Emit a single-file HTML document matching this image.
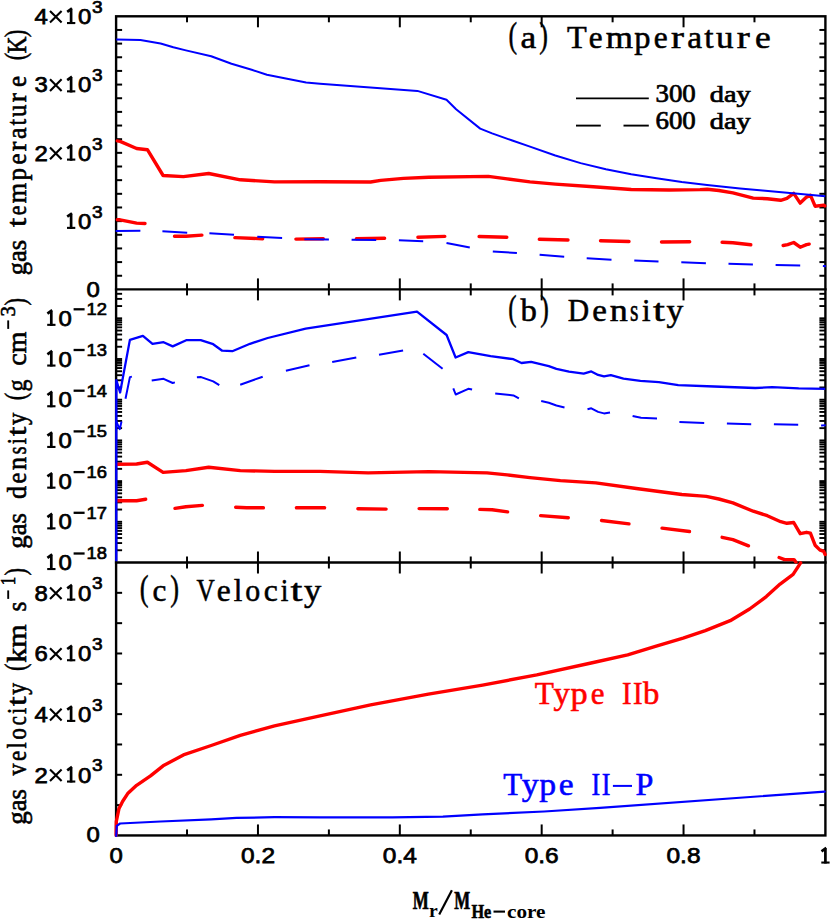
<!DOCTYPE html>
<html><head><meta charset="utf-8"><title>Gas temperature, density, velocity</title>
<style>html,body{margin:0;padding:0;background:#fff}body{width:830px;height:919px;overflow:hidden}svg{display:block}text{white-space:pre}</style>
</head><body>
<svg width="830" height="919" viewBox="0 0 830 919">
<rect width="830" height="919" fill="#fff"/>
<defs><clipPath id="cb"><rect x="113.1" y="289.4" width="715.3" height="274.3"/></clipPath><clipPath id="cc"><rect x="113.1" y="561.0" width="715.3" height="275.95000000000005"/></clipPath></defs>
<g stroke="#000" stroke-width="2.0" fill="none">
<line x1="187.03" y1="16.30" x2="187.03" y2="22.30"/>
<line x1="187.03" y1="283.40" x2="187.03" y2="295.40"/>
<line x1="187.03" y1="556.50" x2="187.03" y2="568.50"/>
<line x1="187.03" y1="829.45" x2="187.03" y2="835.45"/>
<line x1="257.96" y1="16.30" x2="257.96" y2="27.30"/>
<line x1="257.96" y1="278.40" x2="257.96" y2="300.40"/>
<line x1="257.96" y1="551.50" x2="257.96" y2="573.50"/>
<line x1="257.96" y1="824.45" x2="257.96" y2="835.45"/>
<line x1="328.89" y1="16.30" x2="328.89" y2="22.30"/>
<line x1="328.89" y1="283.40" x2="328.89" y2="295.40"/>
<line x1="328.89" y1="556.50" x2="328.89" y2="568.50"/>
<line x1="328.89" y1="829.45" x2="328.89" y2="835.45"/>
<line x1="399.82" y1="16.30" x2="399.82" y2="27.30"/>
<line x1="399.82" y1="278.40" x2="399.82" y2="300.40"/>
<line x1="399.82" y1="551.50" x2="399.82" y2="573.50"/>
<line x1="399.82" y1="824.45" x2="399.82" y2="835.45"/>
<line x1="470.75" y1="16.30" x2="470.75" y2="22.30"/>
<line x1="470.75" y1="283.40" x2="470.75" y2="295.40"/>
<line x1="470.75" y1="556.50" x2="470.75" y2="568.50"/>
<line x1="470.75" y1="829.45" x2="470.75" y2="835.45"/>
<line x1="541.68" y1="16.30" x2="541.68" y2="27.30"/>
<line x1="541.68" y1="278.40" x2="541.68" y2="300.40"/>
<line x1="541.68" y1="551.50" x2="541.68" y2="573.50"/>
<line x1="541.68" y1="824.45" x2="541.68" y2="835.45"/>
<line x1="612.61" y1="16.30" x2="612.61" y2="22.30"/>
<line x1="612.61" y1="283.40" x2="612.61" y2="295.40"/>
<line x1="612.61" y1="556.50" x2="612.61" y2="568.50"/>
<line x1="612.61" y1="829.45" x2="612.61" y2="835.45"/>
<line x1="683.54" y1="16.30" x2="683.54" y2="27.30"/>
<line x1="683.54" y1="278.40" x2="683.54" y2="300.40"/>
<line x1="683.54" y1="551.50" x2="683.54" y2="573.50"/>
<line x1="683.54" y1="824.45" x2="683.54" y2="835.45"/>
<line x1="754.47" y1="16.30" x2="754.47" y2="22.30"/>
<line x1="754.47" y1="283.40" x2="754.47" y2="295.40"/>
<line x1="754.47" y1="556.50" x2="754.47" y2="568.50"/>
<line x1="754.47" y1="829.45" x2="754.47" y2="835.45"/>
<line x1="116.10" y1="275.75" x2="122.10" y2="275.75"/>
<line x1="819.40" y1="275.75" x2="825.40" y2="275.75"/>
<line x1="116.10" y1="262.09" x2="122.10" y2="262.09"/>
<line x1="819.40" y1="262.09" x2="825.40" y2="262.09"/>
<line x1="116.10" y1="248.43" x2="122.10" y2="248.43"/>
<line x1="819.40" y1="248.43" x2="825.40" y2="248.43"/>
<line x1="116.10" y1="234.78" x2="122.10" y2="234.78"/>
<line x1="819.40" y1="234.78" x2="825.40" y2="234.78"/>
<line x1="116.10" y1="221.12" x2="122.10" y2="221.12"/>
<line x1="819.40" y1="221.12" x2="825.40" y2="221.12"/>
<line x1="116.10" y1="207.47" x2="122.10" y2="207.47"/>
<line x1="819.40" y1="207.47" x2="825.40" y2="207.47"/>
<line x1="116.10" y1="193.81" x2="122.10" y2="193.81"/>
<line x1="819.40" y1="193.81" x2="825.40" y2="193.81"/>
<line x1="116.10" y1="180.16" x2="122.10" y2="180.16"/>
<line x1="819.40" y1="180.16" x2="825.40" y2="180.16"/>
<line x1="116.10" y1="166.50" x2="122.10" y2="166.50"/>
<line x1="819.40" y1="166.50" x2="825.40" y2="166.50"/>
<line x1="116.10" y1="152.85" x2="122.10" y2="152.85"/>
<line x1="819.40" y1="152.85" x2="825.40" y2="152.85"/>
<line x1="116.10" y1="139.19" x2="122.10" y2="139.19"/>
<line x1="819.40" y1="139.19" x2="825.40" y2="139.19"/>
<line x1="116.10" y1="125.54" x2="122.10" y2="125.54"/>
<line x1="819.40" y1="125.54" x2="825.40" y2="125.54"/>
<line x1="116.10" y1="111.88" x2="122.10" y2="111.88"/>
<line x1="819.40" y1="111.88" x2="825.40" y2="111.88"/>
<line x1="116.10" y1="98.23" x2="122.10" y2="98.23"/>
<line x1="819.40" y1="98.23" x2="825.40" y2="98.23"/>
<line x1="116.10" y1="84.58" x2="122.10" y2="84.58"/>
<line x1="819.40" y1="84.58" x2="825.40" y2="84.58"/>
<line x1="116.10" y1="70.92" x2="122.10" y2="70.92"/>
<line x1="819.40" y1="70.92" x2="825.40" y2="70.92"/>
<line x1="116.10" y1="57.26" x2="122.10" y2="57.26"/>
<line x1="819.40" y1="57.26" x2="825.40" y2="57.26"/>
<line x1="116.10" y1="43.61" x2="122.10" y2="43.61"/>
<line x1="819.40" y1="43.61" x2="825.40" y2="43.61"/>
<line x1="116.10" y1="29.95" x2="122.10" y2="29.95"/>
<line x1="819.40" y1="29.95" x2="825.40" y2="29.95"/>
<line x1="116.10" y1="805.12" x2="122.10" y2="805.12"/>
<line x1="819.40" y1="805.12" x2="825.40" y2="805.12"/>
<line x1="116.10" y1="774.79" x2="122.10" y2="774.79"/>
<line x1="819.40" y1="774.79" x2="825.40" y2="774.79"/>
<line x1="116.10" y1="744.47" x2="122.10" y2="744.47"/>
<line x1="819.40" y1="744.47" x2="825.40" y2="744.47"/>
<line x1="116.10" y1="714.14" x2="122.10" y2="714.14"/>
<line x1="819.40" y1="714.14" x2="825.40" y2="714.14"/>
<line x1="116.10" y1="683.81" x2="122.10" y2="683.81"/>
<line x1="819.40" y1="683.81" x2="825.40" y2="683.81"/>
<line x1="116.10" y1="653.48" x2="122.10" y2="653.48"/>
<line x1="819.40" y1="653.48" x2="825.40" y2="653.48"/>
<line x1="116.10" y1="623.16" x2="122.10" y2="623.16"/>
<line x1="819.40" y1="623.16" x2="825.40" y2="623.16"/>
<line x1="116.10" y1="592.83" x2="122.10" y2="592.83"/>
<line x1="819.40" y1="592.83" x2="825.40" y2="592.83"/>
</g>
<g stroke="#000" stroke-width="1.9" fill="none">
<line x1="116.10" y1="550.25" x2="122.10" y2="550.25"/>
<line x1="819.40" y1="550.25" x2="825.40" y2="550.25"/>
<line x1="116.10" y1="543.08" x2="122.10" y2="543.08"/>
<line x1="819.40" y1="543.08" x2="825.40" y2="543.08"/>
<line x1="116.10" y1="538.00" x2="122.10" y2="538.00"/>
<line x1="819.40" y1="538.00" x2="825.40" y2="538.00"/>
<line x1="116.10" y1="534.05" x2="122.10" y2="534.05"/>
<line x1="819.40" y1="534.05" x2="825.40" y2="534.05"/>
<line x1="116.10" y1="530.83" x2="122.10" y2="530.83"/>
<line x1="819.40" y1="530.83" x2="825.40" y2="530.83"/>
<line x1="116.10" y1="528.10" x2="122.10" y2="528.10"/>
<line x1="819.40" y1="528.10" x2="825.40" y2="528.10"/>
<line x1="116.10" y1="525.74" x2="122.10" y2="525.74"/>
<line x1="819.40" y1="525.74" x2="825.40" y2="525.74"/>
<line x1="116.10" y1="523.66" x2="122.10" y2="523.66"/>
<line x1="819.40" y1="523.66" x2="825.40" y2="523.66"/>
<line x1="116.10" y1="521.80" x2="122.10" y2="521.80"/>
<line x1="819.40" y1="521.80" x2="825.40" y2="521.80"/>
<line x1="116.10" y1="509.55" x2="122.10" y2="509.55"/>
<line x1="819.40" y1="509.55" x2="825.40" y2="509.55"/>
<line x1="116.10" y1="502.38" x2="122.10" y2="502.38"/>
<line x1="819.40" y1="502.38" x2="825.40" y2="502.38"/>
<line x1="116.10" y1="497.30" x2="122.10" y2="497.30"/>
<line x1="819.40" y1="497.30" x2="825.40" y2="497.30"/>
<line x1="116.10" y1="493.35" x2="122.10" y2="493.35"/>
<line x1="819.40" y1="493.35" x2="825.40" y2="493.35"/>
<line x1="116.10" y1="490.13" x2="122.10" y2="490.13"/>
<line x1="819.40" y1="490.13" x2="825.40" y2="490.13"/>
<line x1="116.10" y1="487.40" x2="122.10" y2="487.40"/>
<line x1="819.40" y1="487.40" x2="825.40" y2="487.40"/>
<line x1="116.10" y1="485.04" x2="122.10" y2="485.04"/>
<line x1="819.40" y1="485.04" x2="825.40" y2="485.04"/>
<line x1="116.10" y1="482.96" x2="122.10" y2="482.96"/>
<line x1="819.40" y1="482.96" x2="825.40" y2="482.96"/>
<line x1="116.10" y1="481.10" x2="122.10" y2="481.10"/>
<line x1="819.40" y1="481.10" x2="825.40" y2="481.10"/>
<line x1="116.10" y1="468.85" x2="122.10" y2="468.85"/>
<line x1="819.40" y1="468.85" x2="825.40" y2="468.85"/>
<line x1="116.10" y1="461.68" x2="122.10" y2="461.68"/>
<line x1="819.40" y1="461.68" x2="825.40" y2="461.68"/>
<line x1="116.10" y1="456.60" x2="122.10" y2="456.60"/>
<line x1="819.40" y1="456.60" x2="825.40" y2="456.60"/>
<line x1="116.10" y1="452.65" x2="122.10" y2="452.65"/>
<line x1="819.40" y1="452.65" x2="825.40" y2="452.65"/>
<line x1="116.10" y1="449.43" x2="122.10" y2="449.43"/>
<line x1="819.40" y1="449.43" x2="825.40" y2="449.43"/>
<line x1="116.10" y1="446.70" x2="122.10" y2="446.70"/>
<line x1="819.40" y1="446.70" x2="825.40" y2="446.70"/>
<line x1="116.10" y1="444.34" x2="122.10" y2="444.34"/>
<line x1="819.40" y1="444.34" x2="825.40" y2="444.34"/>
<line x1="116.10" y1="442.26" x2="122.10" y2="442.26"/>
<line x1="819.40" y1="442.26" x2="825.40" y2="442.26"/>
<line x1="116.10" y1="440.40" x2="122.10" y2="440.40"/>
<line x1="819.40" y1="440.40" x2="825.40" y2="440.40"/>
<line x1="116.10" y1="428.15" x2="122.10" y2="428.15"/>
<line x1="819.40" y1="428.15" x2="825.40" y2="428.15"/>
<line x1="116.10" y1="420.98" x2="122.10" y2="420.98"/>
<line x1="819.40" y1="420.98" x2="825.40" y2="420.98"/>
<line x1="116.10" y1="415.90" x2="122.10" y2="415.90"/>
<line x1="819.40" y1="415.90" x2="825.40" y2="415.90"/>
<line x1="116.10" y1="411.95" x2="122.10" y2="411.95"/>
<line x1="819.40" y1="411.95" x2="825.40" y2="411.95"/>
<line x1="116.10" y1="408.73" x2="122.10" y2="408.73"/>
<line x1="819.40" y1="408.73" x2="825.40" y2="408.73"/>
<line x1="116.10" y1="406.00" x2="122.10" y2="406.00"/>
<line x1="819.40" y1="406.00" x2="825.40" y2="406.00"/>
<line x1="116.10" y1="403.64" x2="122.10" y2="403.64"/>
<line x1="819.40" y1="403.64" x2="825.40" y2="403.64"/>
<line x1="116.10" y1="401.56" x2="122.10" y2="401.56"/>
<line x1="819.40" y1="401.56" x2="825.40" y2="401.56"/>
<line x1="116.10" y1="399.70" x2="122.10" y2="399.70"/>
<line x1="819.40" y1="399.70" x2="825.40" y2="399.70"/>
<line x1="116.10" y1="387.45" x2="122.10" y2="387.45"/>
<line x1="819.40" y1="387.45" x2="825.40" y2="387.45"/>
<line x1="116.10" y1="380.28" x2="122.10" y2="380.28"/>
<line x1="819.40" y1="380.28" x2="825.40" y2="380.28"/>
<line x1="116.10" y1="375.20" x2="122.10" y2="375.20"/>
<line x1="819.40" y1="375.20" x2="825.40" y2="375.20"/>
<line x1="116.10" y1="371.25" x2="122.10" y2="371.25"/>
<line x1="819.40" y1="371.25" x2="825.40" y2="371.25"/>
<line x1="116.10" y1="368.03" x2="122.10" y2="368.03"/>
<line x1="819.40" y1="368.03" x2="825.40" y2="368.03"/>
<line x1="116.10" y1="365.30" x2="122.10" y2="365.30"/>
<line x1="819.40" y1="365.30" x2="825.40" y2="365.30"/>
<line x1="116.10" y1="362.94" x2="122.10" y2="362.94"/>
<line x1="819.40" y1="362.94" x2="825.40" y2="362.94"/>
<line x1="116.10" y1="360.86" x2="122.10" y2="360.86"/>
<line x1="819.40" y1="360.86" x2="825.40" y2="360.86"/>
<line x1="116.10" y1="359.00" x2="122.10" y2="359.00"/>
<line x1="819.40" y1="359.00" x2="825.40" y2="359.00"/>
<line x1="116.10" y1="346.75" x2="122.10" y2="346.75"/>
<line x1="819.40" y1="346.75" x2="825.40" y2="346.75"/>
<line x1="116.10" y1="339.58" x2="122.10" y2="339.58"/>
<line x1="819.40" y1="339.58" x2="825.40" y2="339.58"/>
<line x1="116.10" y1="334.50" x2="122.10" y2="334.50"/>
<line x1="819.40" y1="334.50" x2="825.40" y2="334.50"/>
<line x1="116.10" y1="330.55" x2="122.10" y2="330.55"/>
<line x1="819.40" y1="330.55" x2="825.40" y2="330.55"/>
<line x1="116.10" y1="327.33" x2="122.10" y2="327.33"/>
<line x1="819.40" y1="327.33" x2="825.40" y2="327.33"/>
<line x1="116.10" y1="324.60" x2="122.10" y2="324.60"/>
<line x1="819.40" y1="324.60" x2="825.40" y2="324.60"/>
<line x1="116.10" y1="322.24" x2="122.10" y2="322.24"/>
<line x1="819.40" y1="322.24" x2="825.40" y2="322.24"/>
<line x1="116.10" y1="320.16" x2="122.10" y2="320.16"/>
<line x1="819.40" y1="320.16" x2="825.40" y2="320.16"/>
<line x1="116.10" y1="318.30" x2="122.10" y2="318.30"/>
<line x1="819.40" y1="318.30" x2="825.40" y2="318.30"/>
<line x1="116.10" y1="306.05" x2="122.10" y2="306.05"/>
<line x1="819.40" y1="306.05" x2="825.40" y2="306.05"/>
<line x1="116.10" y1="298.88" x2="122.10" y2="298.88"/>
<line x1="819.40" y1="298.88" x2="825.40" y2="298.88"/>
<line x1="116.10" y1="293.80" x2="122.10" y2="293.80"/>
<line x1="819.40" y1="293.80" x2="825.40" y2="293.80"/>
</g>
<g stroke="#000" stroke-width="2.4" fill="none" stroke-linecap="square">
<rect x="116.1" y="16.3" width="709.3" height="819.1500000000001"/>
<line x1="116.10" y1="289.40" x2="825.40" y2="289.40"/>
<line x1="116.10" y1="562.50" x2="825.40" y2="562.50"/>
</g>
<polyline points="117.3,140.9 120.1,141.4 136.6,148.5 147.4,149.7 163.1,175.5 183.4,176.6 208.7,173.5 240.3,179.8 274.5,181.9 320.0,181.8 370.6,182.0 380.7,180.4 403.5,178.4 428.8,177.2 488.3,176.4 507.2,178.9 530.0,181.9 555.3,184.1 593.3,186.7 631.2,189.5 669.2,190.0 700.0,189.6 707.1,189.2 718.8,190.5 732.9,192.9 753.2,198.1 767.3,198.7 780.7,200.3 786.9,198.4 793.7,193.4 800.2,203.1 806.5,197.1 810.4,195.2 815.1,206.2 823.7,205.1 824.8,205.9" fill="none" stroke="#ff0000" stroke-width="3.4" stroke-linejoin="round" stroke-linecap="round"/>
<polyline points="117.3,219.8 120.1,219.8 136.6,223.1 145.0,223.5" fill="none" stroke="#ff0000" stroke-width="3.4" stroke-linejoin="round" stroke-linecap="round"/>
<polyline points="174.5,236.3 185.9,236.3 201.9,235.1" fill="none" stroke="#ff0000" stroke-width="3.4" stroke-linejoin="round" stroke-linecap="round"/>
<polyline points="234.9,237.6 262.7,238.7" fill="none" stroke="#ff0000" stroke-width="3.4" stroke-linejoin="round" stroke-linecap="round"/>
<polyline points="295.9,239.1 323.3,238.7" fill="none" stroke="#ff0000" stroke-width="3.4" stroke-linejoin="round" stroke-linecap="round"/>
<polyline points="356.4,238.7 384.6,238.2" fill="none" stroke="#ff0000" stroke-width="3.4" stroke-linejoin="round" stroke-linecap="round"/>
<polyline points="417.9,237.2 444.8,236.4" fill="none" stroke="#ff0000" stroke-width="3.4" stroke-linejoin="round" stroke-linecap="round"/>
<polyline points="479.1,236.5 506.8,237.3" fill="none" stroke="#ff0000" stroke-width="3.4" stroke-linejoin="round" stroke-linecap="round"/>
<polyline points="539.3,239.2 568.0,240.0" fill="none" stroke="#ff0000" stroke-width="3.4" stroke-linejoin="round" stroke-linecap="round"/>
<polyline points="600.5,240.7 629.0,241.5" fill="none" stroke="#ff0000" stroke-width="3.4" stroke-linejoin="round" stroke-linecap="round"/>
<polyline points="661.5,242.0 689.7,241.8" fill="none" stroke="#ff0000" stroke-width="3.4" stroke-linejoin="round" stroke-linecap="round"/>
<polyline points="722.1,242.3 732.9,242.7 750.8,244.8" fill="none" stroke="#ff0000" stroke-width="3.4" stroke-linejoin="round" stroke-linecap="round"/>
<polyline points="783.1,245.5 787.7,244.6 793.7,242.5 800.2,247.2 806.5,244.6 809.2,244.1" fill="none" stroke="#ff0000" stroke-width="3.4" stroke-linejoin="round" stroke-linecap="round"/>
<polyline points="116.3,39.5 140.4,40.0 160.6,43.5 173.3,47.3 185.9,50.4 211.2,56.2 231.5,63.8 251.7,69.8 266.9,74.7 287.1,78.7 306.1,82.5 320.0,83.7 417.4,90.9 446.5,99.7 456.1,109.3 480.2,128.6 492.1,133.4 512.3,140.5 530.0,146.6 555.3,155.5 580.6,163.1 605.9,169.2 631.2,174.3 656.5,178.3 681.8,181.9 707.1,184.9 740.0,188.4 762.6,190.5 825.3,196.3" fill="none" stroke="#0000ff" stroke-width="2.0" stroke-linejoin="round" stroke-linecap="butt"/>
<polyline points="115.6,231.0 140.4,230.7" fill="none" stroke="#0000ff" stroke-width="2.0" stroke-linejoin="round" stroke-linecap="butt"/>
<polyline points="162.4,231.2 187.2,232.7" fill="none" stroke="#0000ff" stroke-width="2.0" stroke-linejoin="round" stroke-linecap="butt"/>
<polyline points="209.4,233.2 234.0,234.8" fill="none" stroke="#0000ff" stroke-width="2.0" stroke-linejoin="round" stroke-linecap="butt"/>
<polyline points="257.3,236.8 282.1,238.0" fill="none" stroke="#0000ff" stroke-width="2.0" stroke-linejoin="round" stroke-linecap="butt"/>
<polyline points="304.3,239.3 328.9,239.5" fill="none" stroke="#0000ff" stroke-width="2.0" stroke-linejoin="round" stroke-linecap="butt"/>
<polyline points="351.6,239.7 376.2,240.0" fill="none" stroke="#0000ff" stroke-width="2.0" stroke-linejoin="round" stroke-linecap="butt"/>
<polyline points="398.9,240.2 423.2,241.2" fill="none" stroke="#0000ff" stroke-width="2.0" stroke-linejoin="round" stroke-linecap="butt"/>
<polyline points="446.5,243.0 469.8,247.6" fill="none" stroke="#0000ff" stroke-width="2.0" stroke-linejoin="round" stroke-linecap="butt"/>
<polyline points="492.8,251.4 516.9,253.1" fill="none" stroke="#0000ff" stroke-width="2.0" stroke-linejoin="round" stroke-linecap="butt"/>
<polyline points="539.6,254.7 564.2,256.7" fill="none" stroke="#0000ff" stroke-width="2.0" stroke-linejoin="round" stroke-linecap="butt"/>
<polyline points="586.7,258.2 611.5,259.7" fill="none" stroke="#0000ff" stroke-width="2.0" stroke-linejoin="round" stroke-linecap="butt"/>
<polyline points="634.3,260.5 658.5,261.5" fill="none" stroke="#0000ff" stroke-width="2.0" stroke-linejoin="round" stroke-linecap="butt"/>
<polyline points="681.3,262.2 705.9,263.2" fill="none" stroke="#0000ff" stroke-width="2.0" stroke-linejoin="round" stroke-linecap="butt"/>
<polyline points="728.5,263.8 752.9,264.5" fill="none" stroke="#0000ff" stroke-width="2.0" stroke-linejoin="round" stroke-linecap="butt"/>
<polyline points="775.6,264.9 800.2,265.4" fill="none" stroke="#0000ff" stroke-width="2.0" stroke-linejoin="round" stroke-linecap="butt"/>
<polyline points="822.9,266.0 826.0,266.2" fill="none" stroke="#0000ff" stroke-width="2.0" stroke-linejoin="round" stroke-linecap="butt"/>
<g clip-path="url(#cb)">
<polyline points="116.8,464.3 136.6,464.0 147.4,462.3 163.1,472.4 185.9,470.6 208.7,467.3 240.3,470.6 274.5,471.4 320.0,471.4 368.1,472.9 428.8,471.6 487.0,472.9 507.2,474.9 530.0,477.6 560.4,480.6 595.8,482.9 636.3,488.5 681.8,494.5 700.0,495.9 706.3,496.4 718.8,499.0 732.9,502.9 753.2,511.2 767.3,515.7 780.7,521.7 786.9,523.3 793.7,522.5 800.2,533.7 806.5,532.3 810.4,533.1 815.1,545.2 819.8,549.9 823.7,551.4 825.1,554.5" fill="none" stroke="#ff0000" stroke-width="3.4" stroke-linejoin="round" stroke-linecap="round"/>
<polyline points="116.8,500.7 136.6,500.7 145.7,499.3" fill="none" stroke="#ff0000" stroke-width="3.4" stroke-linejoin="round" stroke-linecap="round"/>
<polyline points="175.0,508.4 185.9,506.8 202.4,505.4" fill="none" stroke="#ff0000" stroke-width="3.4" stroke-linejoin="round" stroke-linecap="round"/>
<polyline points="235.7,507.2 246.6,507.8 263.4,507.8" fill="none" stroke="#ff0000" stroke-width="3.4" stroke-linejoin="round" stroke-linecap="round"/>
<polyline points="296.4,507.8 324.6,507.8" fill="none" stroke="#ff0000" stroke-width="3.4" stroke-linejoin="round" stroke-linecap="round"/>
<polyline points="357.9,508.8 386.1,509.1" fill="none" stroke="#ff0000" stroke-width="3.4" stroke-linejoin="round" stroke-linecap="round"/>
<polyline points="419.1,508.6 447.3,508.8" fill="none" stroke="#ff0000" stroke-width="3.4" stroke-linejoin="round" stroke-linecap="round"/>
<polyline points="479.8,509.4 492.1,509.8 507.6,511.9" fill="none" stroke="#ff0000" stroke-width="3.4" stroke-linejoin="round" stroke-linecap="round"/>
<polyline points="540.6,515.6 568.3,517.7" fill="none" stroke="#ff0000" stroke-width="3.4" stroke-linejoin="round" stroke-linecap="round"/>
<polyline points="601.5,520.5 629.0,523.9" fill="none" stroke="#ff0000" stroke-width="3.4" stroke-linejoin="round" stroke-linecap="round"/>
<polyline points="662.0,528.1 689.5,531.5" fill="none" stroke="#ff0000" stroke-width="3.4" stroke-linejoin="round" stroke-linecap="round"/>
<polyline points="722.1,537.3 732.9,539.7 748.5,545.8" fill="none" stroke="#ff0000" stroke-width="3.4" stroke-linejoin="round" stroke-linecap="round"/>
<polyline points="779.1,557.5 784.6,559.6 794.0,559.6 796.0,562.2" fill="none" stroke="#ff0000" stroke-width="3.4" stroke-linejoin="round" stroke-linecap="round"/>
<polyline points="116.3,561.2 116.3,380.2 120.1,392.5 129.9,339.9 142.9,335.8 152.5,343.9 163.6,342.2 172.7,346.4 186.2,340.2 200.7,340.2 213.2,344.2 222.2,350.7 232.3,351.2 250.0,343.8 267.7,338.0 305.7,328.7 417.0,311.7 446.6,335.0 455.6,357.5 468.3,352.1 490.6,356.2 513.4,359.2 521.5,363.0 531.1,361.8 548.8,366.1 556.4,368.8 569.0,371.6 583.7,373.6 591.3,371.4 598.1,374.9 604.0,376.4 610.8,375.2 623.5,378.7 640.4,380.9 658.9,382.2 678.2,385.1 714.3,386.5 755.3,388.0 772.2,387.2 798.7,388.4 825.2,388.9" fill="none" stroke="#0000ff" stroke-width="2.3" stroke-linejoin="round" stroke-linecap="butt"/>
<polyline points="115.9,420.7 119.8,429.1 121.5,421.5" fill="none" stroke="#0000ff" stroke-width="2.0" stroke-linejoin="round" stroke-linecap="butt"/>
<polyline points="125.5,398.7 129.9,377.1 131.9,376.6" fill="none" stroke="#0000ff" stroke-width="2.0" stroke-linejoin="round" stroke-linecap="butt"/>
<polyline points="151.7,380.5 163.6,378.8 172.7,383.0 174.9,382.4" fill="none" stroke="#0000ff" stroke-width="2.0" stroke-linejoin="round" stroke-linecap="butt"/>
<polyline points="196.9,377.3 201.1,377.1 213.2,381.4 219.3,385.2" fill="none" stroke="#0000ff" stroke-width="2.0" stroke-linejoin="round" stroke-linecap="butt"/>
<polyline points="240.2,384.7 250.0,381.2 262.7,376.7" fill="none" stroke="#0000ff" stroke-width="2.0" stroke-linejoin="round" stroke-linecap="butt"/>
<polyline points="285.9,370.7 309.5,365.3" fill="none" stroke="#0000ff" stroke-width="2.0" stroke-linejoin="round" stroke-linecap="butt"/>
<polyline points="332.2,362.1 356.3,357.5" fill="none" stroke="#0000ff" stroke-width="2.0" stroke-linejoin="round" stroke-linecap="butt"/>
<polyline points="379.0,354.7 403.1,350.4" fill="none" stroke="#0000ff" stroke-width="2.0" stroke-linejoin="round" stroke-linecap="butt"/>
<polyline points="423.3,353.7 442.6,368.8" fill="none" stroke="#0000ff" stroke-width="2.0" stroke-linejoin="round" stroke-linecap="butt"/>
<polyline points="453.3,388.4 455.7,394.5 468.3,388.8 472.1,389.6" fill="none" stroke="#0000ff" stroke-width="2.0" stroke-linejoin="round" stroke-linecap="butt"/>
<polyline points="495.2,393.4 513.4,395.4 518.9,398.4" fill="none" stroke="#0000ff" stroke-width="2.0" stroke-linejoin="round" stroke-linecap="butt"/>
<polyline points="541.2,401.0 548.8,402.7 556.4,405.5 564.5,407.5" fill="none" stroke="#0000ff" stroke-width="2.0" stroke-linejoin="round" stroke-linecap="butt"/>
<polyline points="587.5,409.3 591.3,408.3 598.1,411.9 604.0,413.4 610.0,412.4" fill="none" stroke="#0000ff" stroke-width="2.0" stroke-linejoin="round" stroke-linecap="butt"/>
<polyline points="632.6,416.1 641.0,417.8 657.0,418.6" fill="none" stroke="#0000ff" stroke-width="2.0" stroke-linejoin="round" stroke-linecap="butt"/>
<polyline points="679.4,421.9 704.2,422.9" fill="none" stroke="#0000ff" stroke-width="2.0" stroke-linejoin="round" stroke-linecap="butt"/>
<polyline points="726.9,423.6 751.2,424.3" fill="none" stroke="#0000ff" stroke-width="2.0" stroke-linejoin="round" stroke-linecap="butt"/>
<polyline points="773.9,424.3 798.2,424.8" fill="none" stroke="#0000ff" stroke-width="2.0" stroke-linejoin="round" stroke-linecap="butt"/>
<polyline points="821.1,425.5 825.7,425.3" fill="none" stroke="#0000ff" stroke-width="2.0" stroke-linejoin="round" stroke-linecap="butt"/>
</g>
<g clip-path="url(#cc)">
<polyline points="116.1,835.3 116.3,821.5 118.9,808.8 122.7,801.2 127.7,793.6 136.6,785.3 150.5,775.9 163.1,765.8 183.4,754.9 211.2,745.5 240.3,735.4 274.5,725.8 320.0,715.9 370.6,704.9 428.4,694.1 482.6,685.1 536.8,674.9 591.1,663.0 627.7,654.8 655.4,646.4 683.1,638.1 705.3,630.6 730.2,620.7 749.6,609.0 766.3,596.6 780.1,584.1 793.1,574.4 800.6,562.9" fill="none" stroke="#ff0000" stroke-width="3.4" stroke-linejoin="round" stroke-linecap="round"/>
<polyline points="116.2,835.9 116.8,825.8 120.1,823.5 160.6,821.5 211.2,819.4 236.5,817.9 274.5,817.2 320.0,817.3 392.3,817.3 442.9,816.6 482.6,814.4 544.1,811.5 600.0,807.9 824.7,791.6" fill="none" stroke="#0000ff" stroke-width="2.2" stroke-linejoin="round" stroke-linecap="round"/>
</g>
<g stroke="#000" stroke-width="1.9"><line x1="576" y1="98.4" x2="648.8" y2="98.4"/><line x1="576" y1="125.6" x2="600.8" y2="125.6"/><line x1="623.5" y1="125.6" x2="648.8" y2="125.6"/></g>
<text x="34.4" y="24.1" font-family="Liberation Sans, sans-serif" font-size="22.7" fill="#000" text-anchor="start" textLength="13.3" lengthAdjust="spacingAndGlyphs" stroke="#000" stroke-width="0.75" >4</text>
<path d="M50.0,11.0L61.6,22.6M50.0,22.6L61.6,11.0" stroke="#000" stroke-width="2.1" fill="none"/>
<path d="M71.10,24.10V8.60M72.00,8.40L67.20,11.80" stroke="#000" stroke-width="2.7" fill="none" stroke-linecap="butt"/>
<line x1="67.00" y1="23.05" x2="75.30" y2="23.05" stroke="#000" stroke-width="2.1"/>
<text x="78.0" y="24.1" font-family="Liberation Sans, sans-serif" font-size="22.7" fill="#000" text-anchor="start" textLength="13.3" lengthAdjust="spacingAndGlyphs" stroke="#000" stroke-width="0.75" >0</text>
<text x="91.9" y="12.9" font-family="Liberation Sans, sans-serif" font-size="17.4" fill="#000" text-anchor="start" textLength="10.6" lengthAdjust="spacingAndGlyphs" stroke="#000" stroke-width="0.7" >3</text>
<text x="34.4" y="92.4" font-family="Liberation Sans, sans-serif" font-size="22.7" fill="#000" text-anchor="start" textLength="13.3" lengthAdjust="spacingAndGlyphs" stroke="#000" stroke-width="0.75" >3</text>
<path d="M50.0,79.3L61.6,90.9M50.0,90.9L61.6,79.3" stroke="#000" stroke-width="2.1" fill="none"/>
<path d="M71.10,92.38V76.88M72.00,76.68L67.20,80.08" stroke="#000" stroke-width="2.7" fill="none" stroke-linecap="butt"/>
<line x1="67.00" y1="91.33" x2="75.30" y2="91.33" stroke="#000" stroke-width="2.1"/>
<text x="78.0" y="92.4" font-family="Liberation Sans, sans-serif" font-size="22.7" fill="#000" text-anchor="start" textLength="13.3" lengthAdjust="spacingAndGlyphs" stroke="#000" stroke-width="0.75" >0</text>
<text x="91.9" y="81.2" font-family="Liberation Sans, sans-serif" font-size="17.4" fill="#000" text-anchor="start" textLength="10.6" lengthAdjust="spacingAndGlyphs" stroke="#000" stroke-width="0.7" >3</text>
<text x="34.4" y="160.7" font-family="Liberation Sans, sans-serif" font-size="22.7" fill="#000" text-anchor="start" textLength="13.3" lengthAdjust="spacingAndGlyphs" stroke="#000" stroke-width="0.75" >2</text>
<path d="M50.0,147.5L61.6,159.2M50.0,159.2L61.6,147.5" stroke="#000" stroke-width="2.1" fill="none"/>
<path d="M71.10,160.65V145.15M72.00,144.95L67.20,148.35" stroke="#000" stroke-width="2.7" fill="none" stroke-linecap="butt"/>
<line x1="67.00" y1="159.60" x2="75.30" y2="159.60" stroke="#000" stroke-width="2.1"/>
<text x="78.0" y="160.7" font-family="Liberation Sans, sans-serif" font-size="22.7" fill="#000" text-anchor="start" textLength="13.3" lengthAdjust="spacingAndGlyphs" stroke="#000" stroke-width="0.75" >0</text>
<text x="91.9" y="149.5" font-family="Liberation Sans, sans-serif" font-size="17.4" fill="#000" text-anchor="start" textLength="10.6" lengthAdjust="spacingAndGlyphs" stroke="#000" stroke-width="0.7" >3</text>
<path d="M71.10,228.93V213.43M72.00,213.23L67.20,216.63" stroke="#000" stroke-width="2.7" fill="none" stroke-linecap="butt"/>
<line x1="67.00" y1="227.88" x2="75.30" y2="227.88" stroke="#000" stroke-width="2.1"/>
<text x="78.0" y="228.9" font-family="Liberation Sans, sans-serif" font-size="22.7" fill="#000" text-anchor="start" textLength="13.3" lengthAdjust="spacingAndGlyphs" stroke="#000" stroke-width="0.75" >0</text>
<text x="91.9" y="217.7" font-family="Liberation Sans, sans-serif" font-size="17.4" fill="#000" text-anchor="start" textLength="10.6" lengthAdjust="spacingAndGlyphs" stroke="#000" stroke-width="0.7" >3</text>
<text x="86.5" y="297.0" font-family="Liberation Sans, sans-serif" font-size="22.7" fill="#000" text-anchor="start" textLength="13.3" lengthAdjust="spacingAndGlyphs" stroke="#000" stroke-width="0.75" >0</text>
<text x="34.4" y="600.6" font-family="Liberation Sans, sans-serif" font-size="22.7" fill="#000" text-anchor="start" textLength="13.3" lengthAdjust="spacingAndGlyphs" stroke="#000" stroke-width="0.75" >8</text>
<path d="M50.0,587.5L61.6,599.1M50.0,599.1L61.6,587.5" stroke="#000" stroke-width="2.1" fill="none"/>
<path d="M71.10,600.63V585.13M72.00,584.93L67.20,588.33" stroke="#000" stroke-width="2.7" fill="none" stroke-linecap="butt"/>
<line x1="67.00" y1="599.58" x2="75.30" y2="599.58" stroke="#000" stroke-width="2.1"/>
<text x="78.0" y="600.6" font-family="Liberation Sans, sans-serif" font-size="22.7" fill="#000" text-anchor="start" textLength="13.3" lengthAdjust="spacingAndGlyphs" stroke="#000" stroke-width="0.75" >0</text>
<text x="91.9" y="589.4" font-family="Liberation Sans, sans-serif" font-size="17.4" fill="#000" text-anchor="start" textLength="10.6" lengthAdjust="spacingAndGlyphs" stroke="#000" stroke-width="0.7" >3</text>
<text x="34.4" y="661.3" font-family="Liberation Sans, sans-serif" font-size="22.7" fill="#000" text-anchor="start" textLength="13.3" lengthAdjust="spacingAndGlyphs" stroke="#000" stroke-width="0.75" >6</text>
<path d="M50.0,648.2L61.6,659.8M50.0,659.8L61.6,648.2" stroke="#000" stroke-width="2.1" fill="none"/>
<path d="M71.10,661.28V645.78M72.00,645.58L67.20,648.98" stroke="#000" stroke-width="2.7" fill="none" stroke-linecap="butt"/>
<line x1="67.00" y1="660.23" x2="75.30" y2="660.23" stroke="#000" stroke-width="2.1"/>
<text x="78.0" y="661.3" font-family="Liberation Sans, sans-serif" font-size="22.7" fill="#000" text-anchor="start" textLength="13.3" lengthAdjust="spacingAndGlyphs" stroke="#000" stroke-width="0.75" >0</text>
<text x="91.9" y="650.1" font-family="Liberation Sans, sans-serif" font-size="17.4" fill="#000" text-anchor="start" textLength="10.6" lengthAdjust="spacingAndGlyphs" stroke="#000" stroke-width="0.7" >3</text>
<text x="34.4" y="721.9" font-family="Liberation Sans, sans-serif" font-size="22.7" fill="#000" text-anchor="start" textLength="13.3" lengthAdjust="spacingAndGlyphs" stroke="#000" stroke-width="0.75" >4</text>
<path d="M50.0,708.8L61.6,720.4M50.0,720.4L61.6,708.8" stroke="#000" stroke-width="2.1" fill="none"/>
<path d="M71.10,721.94V706.44M72.00,706.24L67.20,709.64" stroke="#000" stroke-width="2.7" fill="none" stroke-linecap="butt"/>
<line x1="67.00" y1="720.89" x2="75.30" y2="720.89" stroke="#000" stroke-width="2.1"/>
<text x="78.0" y="721.9" font-family="Liberation Sans, sans-serif" font-size="22.7" fill="#000" text-anchor="start" textLength="13.3" lengthAdjust="spacingAndGlyphs" stroke="#000" stroke-width="0.75" >0</text>
<text x="91.9" y="710.7" font-family="Liberation Sans, sans-serif" font-size="17.4" fill="#000" text-anchor="start" textLength="10.6" lengthAdjust="spacingAndGlyphs" stroke="#000" stroke-width="0.7" >3</text>
<text x="34.4" y="782.6" font-family="Liberation Sans, sans-serif" font-size="22.7" fill="#000" text-anchor="start" textLength="13.3" lengthAdjust="spacingAndGlyphs" stroke="#000" stroke-width="0.75" >2</text>
<path d="M50.0,769.5L61.6,781.1M50.0,781.1L61.6,769.5" stroke="#000" stroke-width="2.1" fill="none"/>
<path d="M71.10,782.59V767.09M72.00,766.89L67.20,770.29" stroke="#000" stroke-width="2.7" fill="none" stroke-linecap="butt"/>
<line x1="67.00" y1="781.54" x2="75.30" y2="781.54" stroke="#000" stroke-width="2.1"/>
<text x="78.0" y="782.6" font-family="Liberation Sans, sans-serif" font-size="22.7" fill="#000" text-anchor="start" textLength="13.3" lengthAdjust="spacingAndGlyphs" stroke="#000" stroke-width="0.75" >0</text>
<text x="91.9" y="771.4" font-family="Liberation Sans, sans-serif" font-size="17.4" fill="#000" text-anchor="start" textLength="10.6" lengthAdjust="spacingAndGlyphs" stroke="#000" stroke-width="0.7" >3</text>
<text x="86.5" y="842.2" font-family="Liberation Sans, sans-serif" font-size="22.7" fill="#000" text-anchor="start" textLength="13.3" lengthAdjust="spacingAndGlyphs" stroke="#000" stroke-width="0.75" >0</text>
<path d="M51.30,325.90V310.40M52.20,310.20L47.40,313.60" stroke="#000" stroke-width="2.7" fill="none" stroke-linecap="butt"/>
<line x1="47.20" y1="324.85" x2="55.50" y2="324.85" stroke="#000" stroke-width="2.1"/>
<text x="58.4" y="325.9" font-family="Liberation Sans, sans-serif" font-size="22.7" fill="#000" text-anchor="start" textLength="13.3" lengthAdjust="spacingAndGlyphs" stroke="#000" stroke-width="0.75" >0</text>
<line x1="73.6" y1="309.3" x2="84.6" y2="309.3" stroke="#000" stroke-width="2.3"/>
<text x="86.6" y="315.2" font-family="Liberation Sans, sans-serif" font-size="17.4" fill="#000" text-anchor="start" textLength="20.4" lengthAdjust="spacingAndGlyphs" stroke="#000" stroke-width="0.7" >12</text>
<path d="M51.30,366.60V351.10M52.20,350.90L47.40,354.30" stroke="#000" stroke-width="2.7" fill="none" stroke-linecap="butt"/>
<line x1="47.20" y1="365.55" x2="55.50" y2="365.55" stroke="#000" stroke-width="2.1"/>
<text x="58.4" y="366.6" font-family="Liberation Sans, sans-serif" font-size="22.7" fill="#000" text-anchor="start" textLength="13.3" lengthAdjust="spacingAndGlyphs" stroke="#000" stroke-width="0.75" >0</text>
<line x1="73.6" y1="350.0" x2="84.6" y2="350.0" stroke="#000" stroke-width="2.3"/>
<text x="86.6" y="355.9" font-family="Liberation Sans, sans-serif" font-size="17.4" fill="#000" text-anchor="start" textLength="20.4" lengthAdjust="spacingAndGlyphs" stroke="#000" stroke-width="0.7" >13</text>
<path d="M51.30,407.30V391.80M52.20,391.60L47.40,395.00" stroke="#000" stroke-width="2.7" fill="none" stroke-linecap="butt"/>
<line x1="47.20" y1="406.25" x2="55.50" y2="406.25" stroke="#000" stroke-width="2.1"/>
<text x="58.4" y="407.3" font-family="Liberation Sans, sans-serif" font-size="22.7" fill="#000" text-anchor="start" textLength="13.3" lengthAdjust="spacingAndGlyphs" stroke="#000" stroke-width="0.75" >0</text>
<line x1="73.6" y1="390.7" x2="84.6" y2="390.7" stroke="#000" stroke-width="2.3"/>
<text x="86.6" y="396.6" font-family="Liberation Sans, sans-serif" font-size="17.4" fill="#000" text-anchor="start" textLength="20.4" lengthAdjust="spacingAndGlyphs" stroke="#000" stroke-width="0.7" >14</text>
<path d="M51.30,448.00V432.50M52.20,432.30L47.40,435.70" stroke="#000" stroke-width="2.7" fill="none" stroke-linecap="butt"/>
<line x1="47.20" y1="446.95" x2="55.50" y2="446.95" stroke="#000" stroke-width="2.1"/>
<text x="58.4" y="448.0" font-family="Liberation Sans, sans-serif" font-size="22.7" fill="#000" text-anchor="start" textLength="13.3" lengthAdjust="spacingAndGlyphs" stroke="#000" stroke-width="0.75" >0</text>
<line x1="73.6" y1="431.4" x2="84.6" y2="431.4" stroke="#000" stroke-width="2.3"/>
<text x="86.6" y="437.3" font-family="Liberation Sans, sans-serif" font-size="17.4" fill="#000" text-anchor="start" textLength="20.4" lengthAdjust="spacingAndGlyphs" stroke="#000" stroke-width="0.7" >15</text>
<path d="M51.30,488.70V473.20M52.20,473.00L47.40,476.40" stroke="#000" stroke-width="2.7" fill="none" stroke-linecap="butt"/>
<line x1="47.20" y1="487.65" x2="55.50" y2="487.65" stroke="#000" stroke-width="2.1"/>
<text x="58.4" y="488.7" font-family="Liberation Sans, sans-serif" font-size="22.7" fill="#000" text-anchor="start" textLength="13.3" lengthAdjust="spacingAndGlyphs" stroke="#000" stroke-width="0.75" >0</text>
<line x1="73.6" y1="472.1" x2="84.6" y2="472.1" stroke="#000" stroke-width="2.3"/>
<text x="86.6" y="478.0" font-family="Liberation Sans, sans-serif" font-size="17.4" fill="#000" text-anchor="start" textLength="20.4" lengthAdjust="spacingAndGlyphs" stroke="#000" stroke-width="0.7" >16</text>
<path d="M51.30,529.40V513.90M52.20,513.70L47.40,517.10" stroke="#000" stroke-width="2.7" fill="none" stroke-linecap="butt"/>
<line x1="47.20" y1="528.35" x2="55.50" y2="528.35" stroke="#000" stroke-width="2.1"/>
<text x="58.4" y="529.4" font-family="Liberation Sans, sans-serif" font-size="22.7" fill="#000" text-anchor="start" textLength="13.3" lengthAdjust="spacingAndGlyphs" stroke="#000" stroke-width="0.75" >0</text>
<line x1="73.6" y1="512.8" x2="84.6" y2="512.8" stroke="#000" stroke-width="2.3"/>
<text x="86.6" y="518.7" font-family="Liberation Sans, sans-serif" font-size="17.4" fill="#000" text-anchor="start" textLength="20.4" lengthAdjust="spacingAndGlyphs" stroke="#000" stroke-width="0.7" >17</text>
<path d="M51.30,570.10V554.60M52.20,554.40L47.40,557.80" stroke="#000" stroke-width="2.7" fill="none" stroke-linecap="butt"/>
<line x1="47.20" y1="569.05" x2="55.50" y2="569.05" stroke="#000" stroke-width="2.1"/>
<text x="58.4" y="570.1" font-family="Liberation Sans, sans-serif" font-size="22.7" fill="#000" text-anchor="start" textLength="13.3" lengthAdjust="spacingAndGlyphs" stroke="#000" stroke-width="0.75" >0</text>
<line x1="73.6" y1="553.5" x2="84.6" y2="553.5" stroke="#000" stroke-width="2.3"/>
<text x="86.6" y="559.4" font-family="Liberation Sans, sans-serif" font-size="17.4" fill="#000" text-anchor="start" textLength="20.4" lengthAdjust="spacingAndGlyphs" stroke="#000" stroke-width="0.7" >18</text>
<text x="109.4" y="863.2" font-family="Liberation Sans, sans-serif" font-size="22.7" fill="#000" text-anchor="start" textLength="13.3" lengthAdjust="spacingAndGlyphs" stroke="#000" stroke-width="0.75" >0</text>
<text x="241.0" y="863.2" font-family="Liberation Sans, sans-serif" font-size="22.7" fill="#000" text-anchor="start" textLength="34.0" lengthAdjust="spacingAndGlyphs" stroke="#000" stroke-width="0.75" >0.2</text>
<text x="382.8" y="863.2" font-family="Liberation Sans, sans-serif" font-size="22.7" fill="#000" text-anchor="start" textLength="34.0" lengthAdjust="spacingAndGlyphs" stroke="#000" stroke-width="0.75" >0.4</text>
<text x="524.7" y="863.2" font-family="Liberation Sans, sans-serif" font-size="22.7" fill="#000" text-anchor="start" textLength="34.0" lengthAdjust="spacingAndGlyphs" stroke="#000" stroke-width="0.75" >0.6</text>
<text x="666.5" y="863.2" font-family="Liberation Sans, sans-serif" font-size="22.7" fill="#000" text-anchor="start" textLength="34.0" lengthAdjust="spacingAndGlyphs" stroke="#000" stroke-width="0.75" >0.8</text>
<path d="M825.40,863.60V848.10M826.30,847.90L821.50,851.30" stroke="#000" stroke-width="2.7" fill="none" stroke-linecap="butt"/>
<line x1="821.30" y1="862.55" x2="829.60" y2="862.55" stroke="#000" stroke-width="2.1"/>
<text x="508.45" y="46.50" font-family="Liberation Serif, serif" font-size="36" fill="#000" textLength="8.60" lengthAdjust="spacingAndGlyphs" stroke="#000" stroke-width="0.5">(</text>
<text x="539.25" y="46.50" font-family="Liberation Serif, serif" font-size="36" fill="#000" textLength="8.70" lengthAdjust="spacingAndGlyphs" stroke="#000" stroke-width="0.5">)</text>
<text x="520.48" y="47.50" font-family="Liberation Serif, serif" font-size="32.2" fill="#000" textLength="15.74" lengthAdjust="spacingAndGlyphs" stroke="#000" stroke-width="0.55">a</text>
<text x="566.88" y="47.50" font-family="Liberation Serif, serif" font-size="32.2" fill="#000" textLength="19.74" lengthAdjust="spacingAndGlyphs" stroke="#000" stroke-width="0.55">T</text>
<text x="588.77" y="47.50" font-family="Liberation Serif, serif" font-size="32.2" fill="#000" textLength="13.85" lengthAdjust="spacingAndGlyphs" stroke="#000" stroke-width="0.55">e</text>
<text x="605.67" y="47.50" font-family="Liberation Serif, serif" font-size="32.2" fill="#000" textLength="27.24" lengthAdjust="spacingAndGlyphs" stroke="#000" stroke-width="0.55">m</text>
<text x="634.27" y="47.50" font-family="Liberation Serif, serif" font-size="32.2" fill="#000" textLength="16.25" lengthAdjust="spacingAndGlyphs" stroke="#000" stroke-width="0.55">p</text>
<text x="653.77" y="47.50" font-family="Liberation Serif, serif" font-size="32.2" fill="#000" textLength="13.95" lengthAdjust="spacingAndGlyphs" stroke="#000" stroke-width="0.55">e</text>
<text x="670.98" y="47.50" font-family="Liberation Serif, serif" font-size="32.2" fill="#000" textLength="12.95" lengthAdjust="spacingAndGlyphs" stroke="#000" stroke-width="0.55">r</text>
<text x="687.17" y="47.50" font-family="Liberation Serif, serif" font-size="32.2" fill="#000" textLength="14.84" lengthAdjust="spacingAndGlyphs" stroke="#000" stroke-width="0.55">a</text>
<text x="704.38" y="47.50" font-family="Liberation Serif, serif" font-size="32.2" fill="#000" textLength="9.34" lengthAdjust="spacingAndGlyphs" stroke="#000" stroke-width="0.55">t</text>
<text x="716.07" y="47.50" font-family="Liberation Serif, serif" font-size="32.2" fill="#000" textLength="17.55" lengthAdjust="spacingAndGlyphs" stroke="#000" stroke-width="0.55">u</text>
<text x="736.88" y="47.50" font-family="Liberation Serif, serif" font-size="32.2" fill="#000" textLength="13.05" lengthAdjust="spacingAndGlyphs" stroke="#000" stroke-width="0.55">r</text>
<text x="754.98" y="47.50" font-family="Liberation Serif, serif" font-size="32.2" fill="#000" textLength="15.74" lengthAdjust="spacingAndGlyphs" stroke="#000" stroke-width="0.55">e</text>
<text x="508.35" y="319.60" font-family="Liberation Serif, serif" font-size="36" fill="#000" textLength="8.30" lengthAdjust="spacingAndGlyphs" stroke="#000" stroke-width="0.5">(</text>
<text x="540.35" y="319.60" font-family="Liberation Serif, serif" font-size="36" fill="#000" textLength="8.60" lengthAdjust="spacingAndGlyphs" stroke="#000" stroke-width="0.5">)</text>
<text x="520.48" y="320.60" font-family="Liberation Serif, serif" font-size="32.2" fill="#000" textLength="16.35" lengthAdjust="spacingAndGlyphs" stroke="#000" stroke-width="0.55">b</text>
<text x="567.77" y="320.60" font-family="Liberation Serif, serif" font-size="32.2" fill="#000" textLength="21.36" lengthAdjust="spacingAndGlyphs" stroke="#000" stroke-width="0.55">D</text>
<text x="592.17" y="320.60" font-family="Liberation Serif, serif" font-size="32.2" fill="#000" textLength="14.64" lengthAdjust="spacingAndGlyphs" stroke="#000" stroke-width="0.55">e</text>
<text x="609.88" y="320.60" font-family="Liberation Serif, serif" font-size="32.2" fill="#000" textLength="18.05" lengthAdjust="spacingAndGlyphs" stroke="#000" stroke-width="0.55">n</text>
<text x="630.07" y="320.60" font-family="Liberation Serif, serif" font-size="32.2" fill="#000" textLength="8.45" lengthAdjust="spacingAndGlyphs" stroke="#000" stroke-width="0.55">s</text>
<text x="641.98" y="320.60" font-family="Liberation Serif, serif" font-size="32.2" fill="#000" textLength="8.54" lengthAdjust="spacingAndGlyphs" stroke="#000" stroke-width="0.55">i</text>
<text x="653.07" y="320.60" font-family="Liberation Serif, serif" font-size="32.2" fill="#000" textLength="11.94" lengthAdjust="spacingAndGlyphs" stroke="#000" stroke-width="0.55">t</text>
<text x="666.57" y="320.60" font-family="Liberation Serif, serif" font-size="32.2" fill="#000" textLength="16.75" lengthAdjust="spacingAndGlyphs" stroke="#000" stroke-width="0.55">y</text>
<text x="139.85" y="599.80" font-family="Liberation Serif, serif" font-size="36" fill="#000" textLength="8.80" lengthAdjust="spacingAndGlyphs" stroke="#000" stroke-width="0.5">(</text>
<text x="170.15" y="599.80" font-family="Liberation Serif, serif" font-size="36" fill="#000" textLength="8.80" lengthAdjust="spacingAndGlyphs" stroke="#000" stroke-width="0.5">)</text>
<text x="152.47" y="600.80" font-family="Liberation Serif, serif" font-size="32.2" fill="#000" textLength="13.85" lengthAdjust="spacingAndGlyphs" stroke="#000" stroke-width="0.55">c</text>
<text x="196.58" y="600.80" font-family="Liberation Serif, serif" font-size="32.2" fill="#000" textLength="18.25" lengthAdjust="spacingAndGlyphs" stroke="#000" stroke-width="0.55">V</text>
<text x="216.78" y="600.80" font-family="Liberation Serif, serif" font-size="32.2" fill="#000" textLength="13.95" lengthAdjust="spacingAndGlyphs" stroke="#000" stroke-width="0.55">e</text>
<text x="233.68" y="600.80" font-family="Liberation Serif, serif" font-size="32.2" fill="#000" textLength="8.54" lengthAdjust="spacingAndGlyphs" stroke="#000" stroke-width="0.55">l</text>
<text x="245.18" y="600.80" font-family="Liberation Serif, serif" font-size="32.2" fill="#000" textLength="14.95" lengthAdjust="spacingAndGlyphs" stroke="#000" stroke-width="0.55">o</text>
<text x="263.77" y="600.80" font-family="Liberation Serif, serif" font-size="32.2" fill="#000" textLength="14.05" lengthAdjust="spacingAndGlyphs" stroke="#000" stroke-width="0.55">c</text>
<text x="280.77" y="600.80" font-family="Liberation Serif, serif" font-size="32.2" fill="#000" textLength="7.65" lengthAdjust="spacingAndGlyphs" stroke="#000" stroke-width="0.55">i</text>
<text x="290.47" y="600.80" font-family="Liberation Serif, serif" font-size="32.2" fill="#000" textLength="11.94" lengthAdjust="spacingAndGlyphs" stroke="#000" stroke-width="0.55">t</text>
<text x="303.97" y="600.80" font-family="Liberation Serif, serif" font-size="32.2" fill="#000" textLength="17.25" lengthAdjust="spacingAndGlyphs" stroke="#000" stroke-width="0.55">y</text>
<text x="655.5" y="101.8" font-family="Liberation Serif, serif" font-size="24.6" fill="#000" text-anchor="start" textLength="40.3" lengthAdjust="spacingAndGlyphs" stroke="#000" stroke-width="0.7" >300</text>
<text x="709.8" y="101.8" font-family="Liberation Serif, serif" font-size="23.5" fill="#000" text-anchor="start" textLength="40.9" lengthAdjust="spacingAndGlyphs" stroke="#000" stroke-width="0.7" >day</text>
<text x="655.5" y="128.8" font-family="Liberation Serif, serif" font-size="24.6" fill="#000" text-anchor="start" textLength="40.3" lengthAdjust="spacingAndGlyphs" stroke="#000" stroke-width="0.7" >600</text>
<text x="709.8" y="128.8" font-family="Liberation Serif, serif" font-size="23.5" fill="#000" text-anchor="start" textLength="40.9" lengthAdjust="spacingAndGlyphs" stroke="#000" stroke-width="0.7" >day</text>
<text x="534.67" y="704.20" font-family="Liberation Serif, serif" font-size="31" fill="#ff0000" textLength="19.15" lengthAdjust="spacingAndGlyphs" stroke="#ff0000" stroke-width="0.55">T</text>
<text x="553.57" y="704.20" font-family="Liberation Serif, serif" font-size="31" fill="#ff0000" textLength="16.35" lengthAdjust="spacingAndGlyphs" stroke="#ff0000" stroke-width="0.55">y</text>
<text x="570.48" y="704.20" font-family="Liberation Serif, serif" font-size="31" fill="#ff0000" textLength="17.15" lengthAdjust="spacingAndGlyphs" stroke="#ff0000" stroke-width="0.55">p</text>
<text x="590.67" y="704.20" font-family="Liberation Serif, serif" font-size="31" fill="#ff0000" textLength="13.75" lengthAdjust="spacingAndGlyphs" stroke="#ff0000" stroke-width="0.55">e</text>
<text x="621.88" y="704.20" font-family="Liberation Serif, serif" font-size="31" fill="#ff0000" textLength="9.55" lengthAdjust="spacingAndGlyphs" stroke="#ff0000" stroke-width="0.55">I</text>
<text x="632.88" y="704.20" font-family="Liberation Serif, serif" font-size="31" fill="#ff0000" textLength="9.55" lengthAdjust="spacingAndGlyphs" stroke="#ff0000" stroke-width="0.55">I</text>
<text x="642.98" y="704.20" font-family="Liberation Serif, serif" font-size="31" fill="#ff0000" textLength="16.35" lengthAdjust="spacingAndGlyphs" stroke="#ff0000" stroke-width="0.55">b</text>
<text x="503.38" y="794.50" font-family="Liberation Serif, serif" font-size="31" fill="#0000ff" textLength="18.95" lengthAdjust="spacingAndGlyphs" stroke="#0000ff" stroke-width="0.55">T</text>
<text x="521.88" y="794.50" font-family="Liberation Serif, serif" font-size="31" fill="#0000ff" textLength="16.85" lengthAdjust="spacingAndGlyphs" stroke="#0000ff" stroke-width="0.55">y</text>
<text x="539.27" y="794.50" font-family="Liberation Serif, serif" font-size="31" fill="#0000ff" textLength="16.85" lengthAdjust="spacingAndGlyphs" stroke="#0000ff" stroke-width="0.55">p</text>
<text x="558.67" y="794.50" font-family="Liberation Serif, serif" font-size="31" fill="#0000ff" textLength="14.84" lengthAdjust="spacingAndGlyphs" stroke="#0000ff" stroke-width="0.55">e</text>
<text x="591.48" y="794.50" font-family="Liberation Serif, serif" font-size="31" fill="#0000ff" textLength="8.65" lengthAdjust="spacingAndGlyphs" stroke="#0000ff" stroke-width="0.55">I</text>
<text x="601.77" y="794.50" font-family="Liberation Serif, serif" font-size="31" fill="#0000ff" textLength="8.65" lengthAdjust="spacingAndGlyphs" stroke="#0000ff" stroke-width="0.55">I</text>
<text x="635.57" y="794.50" font-family="Liberation Serif, serif" font-size="31" fill="#0000ff" textLength="17.86" lengthAdjust="spacingAndGlyphs" stroke="#0000ff" stroke-width="0.55">P</text>
<line x1="612.9" y1="785.9" x2="632.0" y2="785.9" stroke="#0000ff" stroke-width="2"/>
<text x="412.7" y="909.1" font-family="Liberation Serif, serif" font-size="24.5" fill="#000" text-anchor="start" textLength="16.0" lengthAdjust="spacingAndGlyphs" stroke="#000" stroke-width="0.7" font-weight="bold">M</text>
<text x="428.9" y="917.2" font-family="Liberation Serif, serif" font-size="19.8" fill="#000" text-anchor="start" textLength="8.7" lengthAdjust="spacingAndGlyphs" font-weight="bold">r</text>
<line x1="439.2" y1="914.6" x2="451.9" y2="890.3" stroke="#000" stroke-width="2.2"/>
<text x="454.2" y="909.1" font-family="Liberation Serif, serif" font-size="24.5" fill="#000" text-anchor="start" textLength="15.9" lengthAdjust="spacingAndGlyphs" stroke="#000" stroke-width="0.7" font-weight="bold">M</text>
<text x="471.5" y="917.8" font-family="Liberation Serif, serif" font-size="19.8" fill="#000" text-anchor="start" textLength="19.8" lengthAdjust="spacingAndGlyphs" stroke="#000" stroke-width="0.6" font-weight="bold">He</text>
<line x1="493.5" y1="911.6" x2="505.0" y2="911.6" stroke="#000" stroke-width="2.1"/>
<text x="507.0" y="917.8" font-family="Liberation Serif, serif" font-size="19.8" fill="#000" text-anchor="start" textLength="38.5" lengthAdjust="spacingAndGlyphs" font-weight="bold">core</text>
<text transform="translate(25.9,275.2) rotate(-90)" font-family="Liberation Serif, serif" font-size="26.5" textLength="35.4" lengthAdjust="spacingAndGlyphs" stroke="#000" stroke-width="0.6">gas</text>
<text transform="translate(25.90,226.90) rotate(-90)" font-family="Liberation Serif, serif" font-size="26.5" fill="#000" textLength="9.19" lengthAdjust="spacingAndGlyphs" stroke="#000" stroke-width="0.6">t</text>
<text transform="translate(25.90,215.30) rotate(-90)" font-family="Liberation Serif, serif" font-size="26.5" fill="#000" textLength="9.70" lengthAdjust="spacingAndGlyphs" stroke="#000" stroke-width="0.6">e</text>
<text transform="translate(25.90,203.20) rotate(-90)" font-family="Liberation Serif, serif" font-size="26.5" fill="#000" textLength="20.30" lengthAdjust="spacingAndGlyphs" stroke="#000" stroke-width="0.6">m</text>
<text transform="translate(25.90,180.50) rotate(-90)" font-family="Liberation Serif, serif" font-size="26.5" fill="#000" textLength="12.40" lengthAdjust="spacingAndGlyphs" stroke="#000" stroke-width="0.6">p</text>
<text transform="translate(25.90,164.40) rotate(-90)" font-family="Liberation Serif, serif" font-size="26.5" fill="#000" textLength="11.00" lengthAdjust="spacingAndGlyphs" stroke="#000" stroke-width="0.6">e</text>
<text transform="translate(25.90,151.30) rotate(-90)" font-family="Liberation Serif, serif" font-size="26.5" fill="#000" textLength="9.60" lengthAdjust="spacingAndGlyphs" stroke="#000" stroke-width="0.6">r</text>
<text transform="translate(25.90,138.90) rotate(-90)" font-family="Liberation Serif, serif" font-size="26.5" fill="#000" textLength="11.50" lengthAdjust="spacingAndGlyphs" stroke="#000" stroke-width="0.6">a</text>
<text transform="translate(25.90,125.50) rotate(-90)" font-family="Liberation Serif, serif" font-size="26.5" fill="#000" textLength="6.60" lengthAdjust="spacingAndGlyphs" stroke="#000" stroke-width="0.6">t</text>
<text transform="translate(25.90,117.00) rotate(-90)" font-family="Liberation Serif, serif" font-size="26.5" fill="#000" textLength="12.30" lengthAdjust="spacingAndGlyphs" stroke="#000" stroke-width="0.6">u</text>
<text transform="translate(25.90,102.30) rotate(-90)" font-family="Liberation Serif, serif" font-size="26.5" fill="#000" textLength="9.20" lengthAdjust="spacingAndGlyphs" stroke="#000" stroke-width="0.6">r</text>
<text transform="translate(25.90,87.10) rotate(-90)" font-family="Liberation Serif, serif" font-size="26.5" fill="#000" textLength="11.00" lengthAdjust="spacingAndGlyphs" stroke="#000" stroke-width="0.6">e</text>
<text transform="translate(25.3,60.3) rotate(-90)" font-family="Liberation Serif, serif" font-size="29" textLength="7.6" lengthAdjust="spacingAndGlyphs" stroke="#000" stroke-width="0.5">(</text>
<text transform="translate(25.9,53.6) rotate(-90)" font-family="Liberation Serif, serif" font-size="26.5" textLength="17.0" lengthAdjust="spacingAndGlyphs" stroke="#000" stroke-width="0.6">K</text>
<text transform="translate(25.3,37.2) rotate(-90)" font-family="Liberation Serif, serif" font-size="29" textLength="7.6" lengthAdjust="spacingAndGlyphs" stroke="#000" stroke-width="0.5">)</text>
<text transform="translate(25.9,548.8) rotate(-90)" font-family="Liberation Serif, serif" font-size="26.5" textLength="35.8" lengthAdjust="spacingAndGlyphs" stroke="#000" stroke-width="0.6">gas</text>
<text transform="translate(25.90,499.10) rotate(-90)" font-family="Liberation Serif, serif" font-size="26.5" fill="#000" textLength="13.00" lengthAdjust="spacingAndGlyphs" stroke="#000" stroke-width="0.6">d</text>
<text transform="translate(25.90,483.40) rotate(-90)" font-family="Liberation Serif, serif" font-size="26.5" fill="#000" textLength="10.90" lengthAdjust="spacingAndGlyphs" stroke="#000" stroke-width="0.6">e</text>
<text transform="translate(25.90,469.90) rotate(-90)" font-family="Liberation Serif, serif" font-size="26.5" fill="#000" textLength="13.00" lengthAdjust="spacingAndGlyphs" stroke="#000" stroke-width="0.6">n</text>
<text transform="translate(25.90,454.20) rotate(-90)" font-family="Liberation Serif, serif" font-size="26.5" fill="#000" textLength="7.80" lengthAdjust="spacingAndGlyphs" stroke="#000" stroke-width="0.6">s</text>
<text transform="translate(25.90,444.30) rotate(-90)" font-family="Liberation Serif, serif" font-size="26.5" fill="#000" textLength="6.20" lengthAdjust="spacingAndGlyphs" stroke="#000" stroke-width="0.6">i</text>
<text transform="translate(25.90,435.90) rotate(-90)" font-family="Liberation Serif, serif" font-size="26.5" fill="#000" textLength="9.29" lengthAdjust="spacingAndGlyphs" stroke="#000" stroke-width="0.6">t</text>
<text transform="translate(25.90,424.90) rotate(-90)" font-family="Liberation Serif, serif" font-size="26.5" fill="#000" textLength="12.40" lengthAdjust="spacingAndGlyphs" stroke="#000" stroke-width="0.6">y</text>
<text transform="translate(25.3,400.3) rotate(-90)" font-family="Liberation Serif, serif" font-size="29" textLength="7.6" lengthAdjust="spacingAndGlyphs" stroke="#000" stroke-width="0.5">(</text>
<text transform="translate(25.9,391.4) rotate(-90)" font-family="Liberation Serif, serif" font-size="26.5" textLength="12.0" lengthAdjust="spacingAndGlyphs" stroke="#000" stroke-width="0.6">g</text>
<text transform="translate(25.9,365.7) rotate(-90)" font-family="Liberation Serif, serif" font-size="26.5" textLength="34.0" lengthAdjust="spacingAndGlyphs" stroke="#000" stroke-width="0.6">cm</text>
<line x1="8.2" y1="320.4" x2="8.2" y2="328.9" stroke="#000" stroke-width="1.9"/>
<text transform="translate(14.9,316.6) rotate(-90)" font-family="Liberation Serif, serif" font-size="20.5" textLength="10.3" lengthAdjust="spacingAndGlyphs" stroke="#000" stroke-width="0.6">3</text>
<text transform="translate(25.3,305.6) rotate(-90)" font-family="Liberation Serif, serif" font-size="29" textLength="7.6" lengthAdjust="spacingAndGlyphs" stroke="#000" stroke-width="0.5">)</text>
<text transform="translate(25.9,824.8) rotate(-90)" font-family="Liberation Serif, serif" font-size="26.5" textLength="35.8" lengthAdjust="spacingAndGlyphs" stroke="#000" stroke-width="0.6">gas</text>
<text transform="translate(25.90,775.60) rotate(-90)" font-family="Liberation Serif, serif" font-size="26.5" fill="#000" textLength="11.90" lengthAdjust="spacingAndGlyphs" stroke="#000" stroke-width="0.6">v</text>
<text transform="translate(25.90,760.90) rotate(-90)" font-family="Liberation Serif, serif" font-size="26.5" fill="#000" textLength="10.20" lengthAdjust="spacingAndGlyphs" stroke="#000" stroke-width="0.6">e</text>
<text transform="translate(25.90,748.40) rotate(-90)" font-family="Liberation Serif, serif" font-size="26.5" fill="#000" textLength="6.20" lengthAdjust="spacingAndGlyphs" stroke="#000" stroke-width="0.6">l</text>
<text transform="translate(25.90,739.40) rotate(-90)" font-family="Liberation Serif, serif" font-size="26.5" fill="#000" textLength="11.30" lengthAdjust="spacingAndGlyphs" stroke="#000" stroke-width="0.6">o</text>
<text transform="translate(25.90,725.20) rotate(-90)" font-family="Liberation Serif, serif" font-size="26.5" fill="#000" textLength="9.00" lengthAdjust="spacingAndGlyphs" stroke="#000" stroke-width="0.6">c</text>
<text transform="translate(25.90,713.90) rotate(-90)" font-family="Liberation Serif, serif" font-size="26.5" fill="#000" textLength="6.20" lengthAdjust="spacingAndGlyphs" stroke="#000" stroke-width="0.6">i</text>
<text transform="translate(25.90,706.00) rotate(-90)" font-family="Liberation Serif, serif" font-size="26.5" fill="#000" textLength="9.59" lengthAdjust="spacingAndGlyphs" stroke="#000" stroke-width="0.6">t</text>
<text transform="translate(25.90,694.70) rotate(-90)" font-family="Liberation Serif, serif" font-size="26.5" fill="#000" textLength="11.90" lengthAdjust="spacingAndGlyphs" stroke="#000" stroke-width="0.6">y</text>
<text transform="translate(25.3,671.0) rotate(-90)" font-family="Liberation Serif, serif" font-size="29" textLength="7.6" lengthAdjust="spacingAndGlyphs" stroke="#000" stroke-width="0.5">(</text>
<text transform="translate(25.9,662.8) rotate(-90)" font-family="Liberation Serif, serif" font-size="26.5" textLength="38.6" lengthAdjust="spacingAndGlyphs" stroke="#000" stroke-width="0.6">km</text>
<text transform="translate(25.9,611.6) rotate(-90)" font-family="Liberation Serif, serif" font-size="26.5" textLength="9.9" lengthAdjust="spacingAndGlyphs" stroke="#000" stroke-width="0.6">s</text>
<line x1="8.2" y1="590.4" x2="8.2" y2="598.9" stroke="#000" stroke-width="1.9"/>
<text transform="translate(14.9,585.2) rotate(-90)" font-family="Liberation Serif, serif" font-size="20.5" textLength="8.4" lengthAdjust="spacingAndGlyphs" stroke="#000" stroke-width="0.6">1</text>
<text transform="translate(25.3,575.6) rotate(-90)" font-family="Liberation Serif, serif" font-size="29" textLength="7.6" lengthAdjust="spacingAndGlyphs" stroke="#000" stroke-width="0.5">)</text>
</svg>
</body></html>
